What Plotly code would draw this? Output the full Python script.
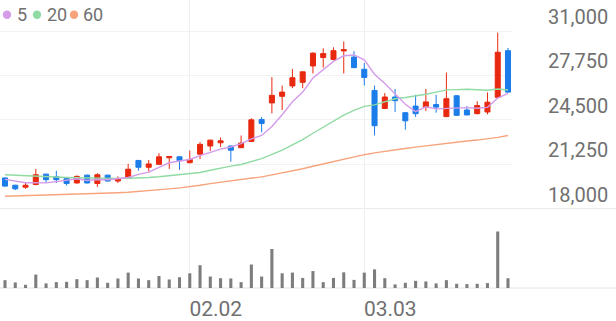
import plotly.graph_objects as go

# ---- data ----
day_index = list(range(50))
tick_pos = [18, 35]
tick_text = ["02.02", "03.03"]
price_ticks = [18000, 21250, 24500, 27750, 31000]
price_tick_text = ["18,000", "21,250", "24,500", "27,750", "31,000"]

open_ = [20245, 19715, 19572, 19765, 20526, 20340, 20218, 19880, 20454, 19838,
         20454, 20023, 20218, 21530, 21028, 21244, 21724, 21796, 21365, 21990,
         22585, 22822, 22585, 22463, 22922, 24522, 25741, 26222, 26983, 27248,
         28446, 29063, 28920, 29544, 29092, 28202, 26653, 25333, 26172, 25024,
         25505, 25433, 25620, 24737, 26265, 25218, 24952, 25074, 26150, 29565]
high = [20290, 19750, 19880, 20913, 20560, 20770, 20250, 20434, 20490, 20598,
        20480, 20361, 21272, 21560, 21559, 22061, 21840, 21830, 22248, 22872,
        23040, 23209, 22620, 23353, 24615, 24716, 27628, 27011, 28231, 28040,
        29450, 29737, 29809, 30240, 29522, 28661, 27011, 26459, 26767, 25060,
        26337, 26767, 26337, 27965, 26300, 25505, 25863, 26510, 30885, 29759]
low = [19620, 19357, 19450, 19715, 19880, 19880, 19694, 19838, 19840, 19594,
       19990, 19880, 20190, 20791, 20720, 21200, 20913, 20841, 21315, 21630,
       22226, 22513, 21437, 22430, 22890, 23589, 24974, 25218, 26818, 26818,
       27894, 28324, 28848, 27894, 28274, 27011, 23353, 25300, 25074, 23783,
       24716, 25146, 25024, 24700, 24800, 24830, 24902, 24902, 26120, 26500]
close = [19650, 19450, 19715, 20483, 20124, 20124, 19838, 20361, 19880, 20483,
         20023, 20146, 20885, 21028, 21272, 21796, 21817, 21509, 21602, 22707,
         23015, 22965, 22276, 22800, 24500, 24235, 26294, 26531, 27585, 28016,
         29379, 29350, 29565, 29637, 28324, 27607, 24070, 26172, 25907, 24428,
         24952, 25813, 25433, 26050, 24830, 24859, 25548, 25792, 29450, 26531]

ma5 = [20140, 20000, 19895, 19895, 19884, 19979, 20057, 20186, 20065, 20137,
       20117, 20179, 20283, 20513, 20671, 21025, 21360, 21484, 21599, 21886,
       22130, 22360, 22513, 22753, 23111, 23355, 24021, 24872, 25829, 26532,
       27561, 28172, 28779, 29189, 29251, 28897, 27841, 27162, 26416, 25637,
       25106, 25454, 25307, 25335, 25416, 25397, 25344, 25416, 26096, 26436]
ma20 = [20480, 20440, 20400, 20370, 20340, 20310, 20280, 20260, 20240, 20230,
        20220, 20215, 20220, 20240, 20280, 20340, 20420, 20500, 20580, 20645,
        20813, 20989, 21117, 21233, 21451, 21657, 21980, 22288, 22673, 23050,
        23518, 23978, 24412, 24843, 25195, 25486, 25598, 25832, 26047, 26133,
        26230, 26372, 26530, 26692, 26709, 26740, 26703, 26666, 26759, 26685]
ma60 = [18905, 18925, 18945, 18965, 18985, 19005, 19030, 19055, 19080, 19105,
        19135, 19165, 19200, 19250, 19310, 19375, 19445, 19520, 19600, 19710,
        19830, 19920, 20010, 20100, 20200, 20330, 20470, 20610, 20750, 20920,
        21100, 21280, 21450, 21620, 21790, 21950, 22080, 22200, 22300, 22400,
        22500, 22600, 22700, 22800, 22880, 22950, 23020, 23100, 23220, 23350]
volume = [160000, 114000, 66000, 274000, 94000, 120000, 126000, 180000, 160000, 214000,
          106000, 194000, 314000, 194000, 160000, 246000, 174000, 220000, 300000, 466000,
          234000, 200000, 194000, 120000, 480000, 234000, 794000, 300000, 314000, 206000,
          346000, 120000, 206000, 320000, 166000, 314000, 380000, 200000, 74000, 106000,
          146000, 134000, 94000, 160000, 86000, 80000, 86000, 100000, 1154000, 200000]

legend_names = ["5", "20", "60"]

# ---- styles ----
RED = "#e8290f"
BLUE = "#1b7de9"
MA_COLORS = ["#d49be9", "#90dba3", "#f7a47d"]
TXT = "#707070"
GRID = "#f2f2f2"
W, H = 616, 321
ML, MR, MT, MB = 0, 104, 0, 27
PW, PH = W - ML - MR, H - MT - MB
PRICE_BOTTOM = 213  # pixel row of the price pane bottom

fig = go.Figure()

for vals, col in zip([ma60, ma20, ma5], [MA_COLORS[2], MA_COLORS[1], MA_COLORS[0]]):
    fig.add_trace(go.Scatter(x=day_index, y=vals, mode="lines",
                             line=dict(color=col, width=1.4), hoverinfo="skip",
                             xaxis="x", yaxis="y", showlegend=False))

fig.add_trace(go.Candlestick(
    x=day_index, open=open_, high=high, low=low, close=close,
    increasing=dict(line=dict(color=RED, width=1), fillcolor=RED),
    decreasing=dict(line=dict(color=BLUE, width=1), fillcolor=BLUE),
    whiskerwidth=0, xaxis="x", yaxis="y", showlegend=False, hoverinfo="skip"))

fig.add_trace(go.Bar(x=day_index, y=volume, marker=dict(color="#7d7d7d", line=dict(width=0)),
                     width=0.3, xaxis="x2", yaxis="y2", showlegend=False, hoverinfo="skip"))

# axis ranges from pixel geometry
px_per_day = 10.265
x_left = -5 / px_per_day
x_right = x_left + PW / px_per_day
price_per_px = (31000 - 18000) / (PRICE_BOTTOM - 31.7)
y_top = 18000 + PRICE_BOTTOM * price_per_px
split = (PH - PRICE_BOTTOM) / PH

common_x = dict(range=[x_left, x_right], tickvals=tick_pos, showgrid=True,
                gridcolor="#efefef", gridwidth=1, zeroline=False, showline=False,
                ticks="", fixedrange=True)

fig.update_layout(
    width=W, height=H,
    margin=dict(l=ML, r=MR, t=MT, b=MB),
    paper_bgcolor="white", plot_bgcolor="white",
    font=dict(family="Roboto", color=TXT),
    hovermode=False,
    boxgap=0.3, boxgroupgap=0.3,
    xaxis=dict(common_x, domain=[0, 1], anchor="y", showticklabels=False,
               rangeslider=dict(visible=False)),
    xaxis2=dict(common_x, domain=[0, 1], anchor="y2", matches="x",
                ticktext=tick_text, showticklabels=True,
                tickfont=dict(size=21, color=TXT), ticklabelshift=26,
                ticklabelstandoff=6),
    yaxis=dict(domain=[split, 1], range=[18000, y_top], side="right",
               tickvals=price_ticks, ticktext=price_tick_text,
               tickfont=dict(size=20, color=TXT), ticklabelshift=-14,
               ticklabelstandoff=35,
               showgrid=True, gridcolor=GRID, gridwidth=1, zeroline=False,
               showline=False, ticks="", fixedrange=True),
    yaxis2=dict(domain=[0, split], range=[0, 1154000 * (PH - PRICE_BOTTOM) / 57.7],
                showticklabels=False, showgrid=False, zeroline=False,
                showline=False, ticks="", fixedrange=True),
)

# full-width separator lines (price pane bottom and volume baseline)
for yp, col in [(split, "#e9e9e9"), (0, "#e4e4e4")]:
    fig.add_shape(type="line", xref="paper", yref="paper", x0=0, x1=W / PW,
                  y0=yp, y1=yp, line=dict(color=col, width=1), layer="below")

# legend: colored dots + labels
dot_x = [7, 37, 74]
lab_x = [16, 46, 82]
leg_y = 1 - 15 / PH
for name, col, dx, lx in zip(legend_names, MA_COLORS, dot_x, lab_x):
    fig.add_shape(type="circle", xref="paper", yref="paper",
                  xsizemode="pixel", ysizemode="pixel",
                  xanchor=dx / PW, yanchor=leg_y, x0=-4.2, x1=4.2, y0=-4.2, y1=4.2,
                  fillcolor=col, line=dict(width=0))
    fig.add_annotation(xref="paper", yref="paper", x=lx / PW, y=leg_y,
                       xanchor="left", yanchor="middle", text=name, showarrow=False,
                       font=dict(size=18, color=TXT, family="Roboto"), borderpad=0)

fig.write_html("out.html", config=dict(displayModeBar=False, staticPlot=True))
